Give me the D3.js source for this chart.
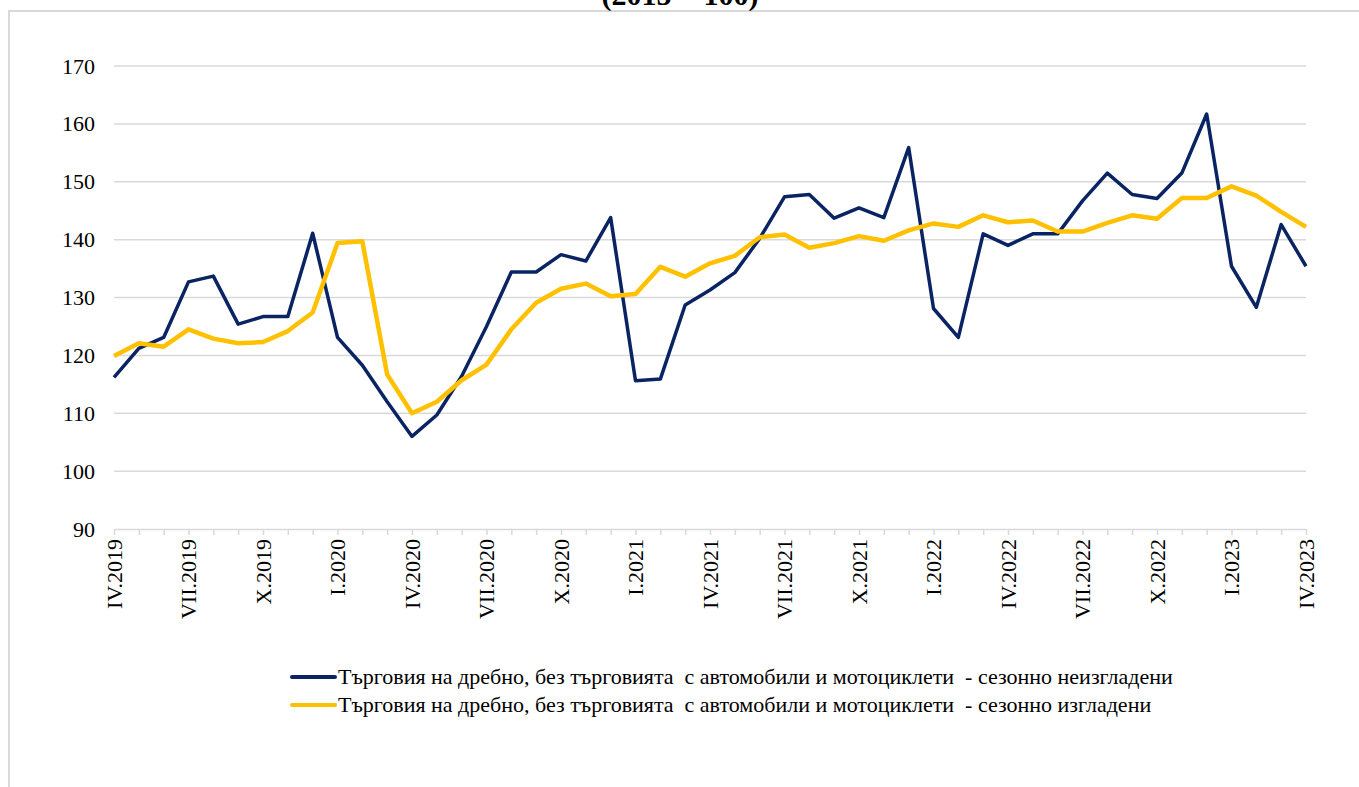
<!DOCTYPE html>
<html>
<head>
<meta charset="utf-8">
<script src="https://cdn.jsdelivr.net/npm/d3@7"></script>
<style>
  body { margin: 0; background: #fff; }
  svg text { font-family: "Liberation Serif", "Times New Roman", serif; fill: #000; }
</style>
</head>
<body>
<div id="chart"></div>
<script>
// months IV.2019 .. IV.2023
var months = ["IV","V","VI","VII","VIII","IX","X","XI","XII","I","II","III"];
var periods = [];
for (var k = 0; k < 49; k++) {
    var yr = 2019 + Math.floor((3 + k) / 12);
    periods.push(months[k % 12] + "." + yr);
}

var unadjusted = [116.2, 121.2, 123.1, 132.7, 133.7, 125.4, 126.7, 126.7, 141.1, 123.1,
                  118.3, 112.0, 106.0, 109.7, 116.4, 125.0, 134.4, 134.4, 137.4, 136.3,
                  143.8, 115.6, 115.9, 128.7, 131.3, 134.3, 140.2, 147.4, 147.8, 143.7,
                  145.5, 143.8, 155.9, 128.1, 123.1, 141.0, 139.0, 141.0, 141.0, 146.7,
                  151.5, 147.8, 147.1, 151.5, 161.7, 135.4, 128.3, 142.6, 135.4];
var adjusted   = [119.9, 122.1, 121.5, 124.5, 122.9, 122.1, 122.3, 124.2, 127.4, 139.4,
                  139.7, 116.7, 110.0, 112.0, 115.7, 118.4, 124.5, 129.1, 131.5, 132.4,
                  130.2, 130.6, 135.3, 133.6, 135.9, 137.2, 140.4, 140.9, 138.6, 139.4,
                  140.6, 139.8, 141.6, 142.8, 142.2, 144.2, 143.0, 143.3, 141.4, 141.4,
                  142.9, 144.2, 143.6, 147.2, 147.2, 149.2, 147.6, 144.8, 142.2];
var yTicks = [90, 100, 110, 120, 130, 140, 150, 160, 170];
var seriesNames = ["Търговия на дребно, без търговията  с автомобили и мотоциклети  - сезонно неизгладени",
                   "Търговия на дребно, без търговията  с автомобили и мотоциклети  - сезонно изгладени"];
var colors = ["#0a2463", "#ffc000"];

var w = 1359, h = 787;
var svg = d3.select("#chart").append("svg").attr("width", w).attr("height", h);

// outer frame
svg.append("rect").attr("x", 9).attr("y", 11).attr("width", w + 20).attr("height", h + 20)
    .attr("fill", "none").attr("stroke", "#d9d9d9").attr("stroke-width", 2);

// title (cut off by the top edge)
svg.append("text").attr("x", 680).attr("y", 5).attr("text-anchor", "middle")
    .attr("font-size", "30px").attr("font-weight", "bold")
    .style("white-space", "pre").text("(2015 = 100)");

var x = d3.scalePoint().domain(periods).range([114, 1306]);
var y = d3.scaleLinear().domain([90, 170]).range([529, 66]);

// grid
svg.append("g").selectAll("line").data(yTicks.slice(1)).enter().append("line")
    .attr("x1", 114).attr("x2", 1306)
    .attr("y1", function(d){ return y(d); }).attr("y2", function(d){ return y(d); })
    .attr("stroke", "#d9d9d9").attr("stroke-width", 1.5);

// y axis labels
var yAxis = svg.append("g").attr("transform", "translate(114,0)")
    .call(d3.axisLeft(y).tickValues(yTicks).tickSize(0).tickPadding(19));
yAxis.select(".domain").remove();
yAxis.selectAll("text").attr("font-size", "22px").attr("font-family", null).attr("fill", "#000");

// x axis
var xAxis = svg.append("g").attr("transform", "translate(0," + y(90) + ")")
    .call(d3.axisBottom(x).tickSize(6).tickSizeOuter(0)
        .tickFormat(function(d, i){ return i % 3 === 0 ? d : ""; }));
xAxis.select(".domain").attr("stroke", "#d9d9d9").attr("stroke-width", 1.5);
xAxis.selectAll(".tick line").attr("stroke", "#d9d9d9").attr("stroke-width", 1.5);
xAxis.selectAll("text")
    .attr("font-size", "22px").attr("font-family", null).attr("fill", "#000")
    .attr("text-anchor", "end")
    .attr("transform", "rotate(-90)")
    .attr("x", -10).attr("y", 0).attr("dy", "0.33em");

// lines
var line = d3.line()
    .x(function(d, i){ return x(periods[i]); })
    .y(function(d){ return y(d); });

[unadjusted, adjusted].forEach(function(s, i) {
    svg.append("path").datum(s)
        .attr("fill", "none")
        .attr("stroke", colors[i])
        .attr("stroke-width", i === 0 ? 3.5 : 4.5)
        .attr("stroke-linejoin", "round")
        .attr("d", line);
});

// legend
var legend = svg.append("g");
seriesNames.forEach(function(name, i) {
    var ly = 677 + i * 28;
    legend.append("line").attr("x1", 292).attr("x2", 335).attr("y1", ly).attr("y2", ly)
        .attr("stroke", colors[i]).attr("stroke-width", 4).attr("stroke-linecap", "round");
    legend.append("text").attr("x", 338).attr("y", ly).attr("dy", "0.33em")
        .attr("font-size", "22px").style("white-space", "pre").text(name);
});
</script>
</body>
</html>
